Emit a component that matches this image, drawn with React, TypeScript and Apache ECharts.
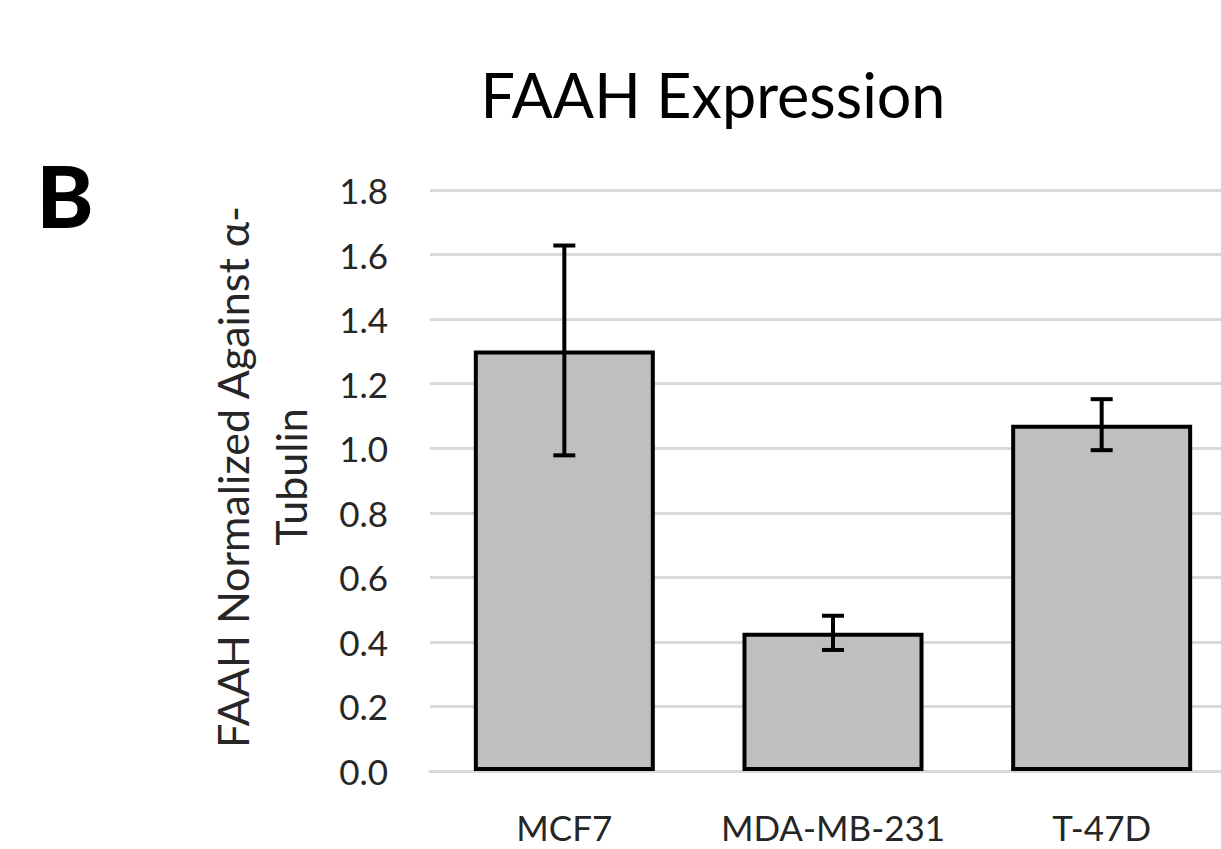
import React, { useEffect, useRef } from "react";
import * as echarts from "echarts";

const categories = ["MCF7", "MDA-MB-231", "T-47D"];
const means = [1.303, 0.428, 1.073];
const errors = [0.325, 0.053, 0.079];
const yTicks = [0, 0.2, 0.4, 0.6, 0.8, 1.0, 1.2, 1.4, 1.6, 1.8];

const FONT = "Lato";

export default function App() {
  const ref = useRef<HTMLDivElement>(null);
  useEffect(() => {
    if (!ref.current) return;
    const chart = echarts.init(ref.current, undefined, { renderer: "svg" });
    const errData = categories.map((c, i) => [i, means[i] - errors[i], means[i] + errors[i]]);
    chart.setOption({
      animation: false,
      backgroundColor: "#ffffff",
      grid: { left: 430, right: 4, top: 190, bottom: 78, containLabel: false },
      xAxis: {
        type: "category",
        data: categories,
        axisLine: { show: true, lineStyle: { color: "#d9d9d9", width: 3 } },
        axisTick: { show: false },
        axisLabel: {
          interval: 0,
          color: "#262626",
          fontFamily: FONT,
          fontSize: 35,
          margin: 56,
          verticalAlign: "middle",
          lineHeight: 35,
        },
      },
      yAxis: {
        type: "value",
        min: yTicks[0],
        max: yTicks[yTicks.length - 1],
        interval: 0.2,
        axisLine: { show: false },
        axisTick: { show: false },
        splitLine: { show: true, lineStyle: { color: "#d9d9d9", width: 3 } },
        axisLabel: {
          color: "#262626",
          fontFamily: FONT,
          fontSize: 35,
          margin: 42,
          formatter: (v: number) => v.toFixed(1),
        },
      },
      graphic: [
        {
          type: "text",
          x: 713,
          y: 94,
          style: {
            text: "FAAH Expression",
            fontFamily: FONT,
            fontSize: 61,
            fill: "#000000",
            textAlign: "center",
            textVerticalAlign: "middle",
          },
        },
        {
          type: "text",
          x: 65,
          y: 194,
          style: {
            text: "B",
            fontFamily: FONT,
            fontWeight: 900,
            fontSize: 86,
            fill: "#000000",
            textAlign: "center",
            textVerticalAlign: "middle",
          },
        },
        {
          type: "text",
          x: 232,
          y: 477,
          rotation: Math.PI / 2,
          style: {
            text: "FAAH Normalized Against α-",
            fontFamily: FONT,
            fontSize: 43,
            fill: "#262626",
            textAlign: "center",
            textVerticalAlign: "middle",
          },
        },
        {
          type: "text",
          x: 290,
          y: 477,
          rotation: Math.PI / 2,
          style: {
            text: "Tubulin",
            fontFamily: FONT,
            fontSize: 43,
            fill: "#262626",
            textAlign: "center",
            textVerticalAlign: "middle",
          },
        },
      ],
      series: [
        {
          type: "bar",
          data: means,
          barWidth: 181,
          itemStyle: { color: "#bfbfbf", borderColor: "#000000", borderWidth: 4 },
          z: 2,
        },
        {
          type: "custom",
          data: errData,
          z: 5,
          renderItem: (params: any, api: any) => {
            const idx = api.value(0);
            const lo = api.coord([idx, api.value(1)]);
            const hi = api.coord([idx, api.value(2)]);
            const hw = 11;
            const st = { stroke: "#000000", lineWidth: 4 };
            return {
              type: "group",
              children: [
                { type: "line", shape: { x1: hi[0], y1: hi[1], x2: lo[0], y2: lo[1] }, style: st },
                { type: "line", shape: { x1: hi[0] - hw, y1: hi[1], x2: hi[0] + hw, y2: hi[1] }, style: st },
                { type: "line", shape: { x1: lo[0] - hw, y1: lo[1], x2: lo[0] + hw, y2: lo[1] }, style: st },
              ],
            };
          },
        },
      ],
    });
    return () => chart.dispose();
  }, []);
  return (
    <div
      style={{ position: "fixed", left: 0, top: 0, width: 1221, height: 849, overflow: "hidden", background: "#fff" }}
    >
      <div ref={ref} style={{ width: 1240, height: 849 }} />
    </div>
  );
}
